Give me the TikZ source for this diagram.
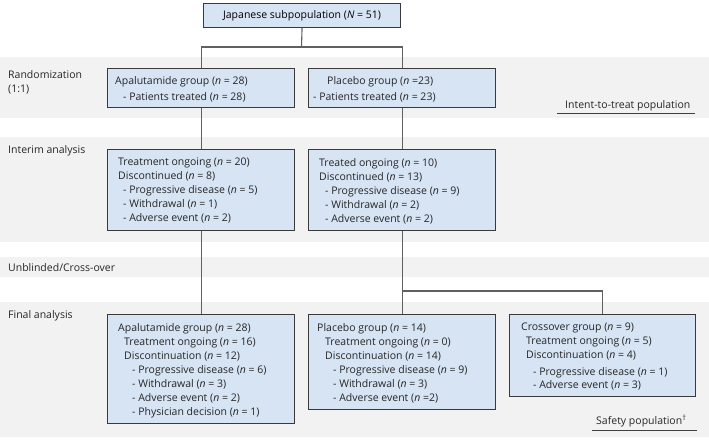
\documentclass[tikz,border=0pt]{standalone}
\usepackage{fontspec}
\setmainfont{Open Sans}
\definecolor{boxfill}{HTML}{D6E4F4}
\definecolor{boxline}{HTML}{3A3A3A}
\definecolor{bandgray}{HTML}{F2F2F2}
\definecolor{connline}{HTML}{606060}
\begin{document}
\begin{tikzpicture}[x=1pt,y=-1pt,
  font=\fontsize{10.5}{14}\selectfont,
  stagebox/.style={draw=boxline, line width=1.1pt, fill=boxfill, inner sep=0pt, anchor=north west},
  boxtext/.style={inner sep=0pt, anchor=north west, align=left, text=black!85},
  rowlabel/.style={inner sep=0pt, anchor=base west, align=left, text=black!85},
  connector/.style={draw=connline, line width=1.1pt},
  bandfill/.style={fill=bandgray, draw=none},
  ruleline/.style={draw=black!75, line width=0.8pt}]
\useasboundingbox (0,0) rectangle (709,439);
\fill[white] (0,0) rectangle (709,439);
% bands
\path[bandfill] (0,57) rectangle (709,118);
\path[bandfill] (0,137) rectangle (709,242);
\path[bandfill] (0,257) rectangle (709,277);
\path[bandfill] (0,302) rectangle (709,437);
% row labels
\node[rowlabel] (lrand) at (8,92) {Randomization\\(1:1)};
\node[rowlabel] (linter) at (8,153) {Interim analysis};
\node[rowlabel] (lunbl) at (8,271) {Unblinded/Cross-over};
\node[rowlabel] (lfinal) at (8,318) {Final analysis};
% boxes
\node[stagebox, minimum width=197pt, minimum height=24pt] (top) at (203,3) {Japanese subpopulation (\textit{N} = 51)};
\node[stagebox, minimum width=187pt, minimum height=39pt] (apR) at (107,68) {};
\node[stagebox, minimum width=187pt, minimum height=39pt] (plR) at (308,68) {};
\node[stagebox, minimum width=187pt, minimum height=81pt] (apI) at (107,149) {};
\node[stagebox, minimum width=187pt, minimum height=81pt] (plI) at (308,149) {};
\node[stagebox, minimum width=187pt, minimum height=109pt] (apF) at (107,314) {};
\node[stagebox, minimum width=187pt, minimum height=95pt] (plF) at (308,314) {};
\node[stagebox, minimum width=186pt, minimum height=82pt] (crF) at (509,314) {};
% box texts
\node[boxtext] (apRt) at (115,76) {Apalutamide group (\textit{n} = 28)\\[2pt]\hspace*{8pt}- Patients treated (\textit{n} = 28)};
\node[boxtext] (plRt) at (313,76) {\hspace*{14pt}Placebo group (\textit{n} =23)\\[2pt]- Patients treated (\textit{n} = 23)};
\node[boxtext] (apIt) at (118,158) {Treatment ongoing (\textit{n} = 20)\\
Discontinued (\textit{n} = 8)\\
\hspace*{5pt}- Progressive disease (\textit{n} = 5)\\
\hspace*{5pt}- Withdrawal (\textit{n} = 1)\\
\hspace*{5pt}- Adverse event (\textit{n} = 2)};
\node[boxtext] (plIt) at (319,158) {Treated ongoing (\textit{n} = 10)\\
Discontinued (\textit{n} = 13)\\
\hspace*{6pt}- Progressive disease (\textit{n} = 9)\\
\hspace*{6pt}- Withdrawal (\textit{n} = 2)\\
\hspace*{6pt}- Adverse event (\textit{n} = 2)};
\node[boxtext] (apFt) at (118,323) {Apalutamide group (\textit{n} = 28)\\
\hspace*{6pt}Treatment ongoing (\textit{n} = 16)\\
\hspace*{6pt}Discontinuation (\textit{n} = 12)\\
\hspace*{14pt}- Progressive disease (\textit{n} = 6)\\
\hspace*{14pt}- Withdrawal (\textit{n} = 3)\\
\hspace*{14pt}- Adverse event (\textit{n} = 2)\\
\hspace*{14pt}- Physician decision (\textit{n} = 1)};
\node[boxtext] (plFt) at (317,323) {Placebo group (\textit{n} = 14)\\
\hspace*{8pt}Treatment ongoing (\textit{n} = 0)\\
\hspace*{8pt}Discontinuation (\textit{n} = 14)\\
\hspace*{16pt}- Progressive disease (\textit{n} = 9)\\
\hspace*{16pt}- Withdrawal (\textit{n} = 3)\\
\hspace*{16pt}- Adverse event (\textit{n} =2)};
\node[boxtext] (crFt) at (521,323) {Crossover group (\textit{n} = 9)\\
\hspace*{5pt}Treatment ongoing (\textit{n} = 5)\\
\hspace*{5pt}Discontinuation (\textit{n} = 4)\\[3pt]
\hspace*{12pt}- Progressive disease (\textit{n} = 1)\\[-1pt]
\hspace*{12pt}- Adverse event (\textit{n} = 3)};
% population labels
\node[rowlabel] (itt) at (565,108.5) {Intent-to-treat population};
\draw[ruleline] (557,113) -- (695,113);
\node[rowlabel] (safety) at (596,424) {Safety population\textsuperscript{†}};
\draw[ruleline] (592,430) -- (697,430);
% connectors
\coordinate (split1) at (301.5,47);
\coordinate (split2) at (401.5,291);
\draw[connector] (top.south) -- (split1);
\draw[connector] (split1) -| (apR.north);
\draw[connector] (split1) -| (plR.north);
\draw[connector] (apR.south) -- (apI.north);
\draw[connector] (plR.south) -- (plI.north);
\draw[connector] (apI.south) -- (apF.north);
\draw[connector] (plI.south) -- (plF.north);
\draw[connector] (split2) -| (crF.north);
\end{tikzpicture}
\end{document}
